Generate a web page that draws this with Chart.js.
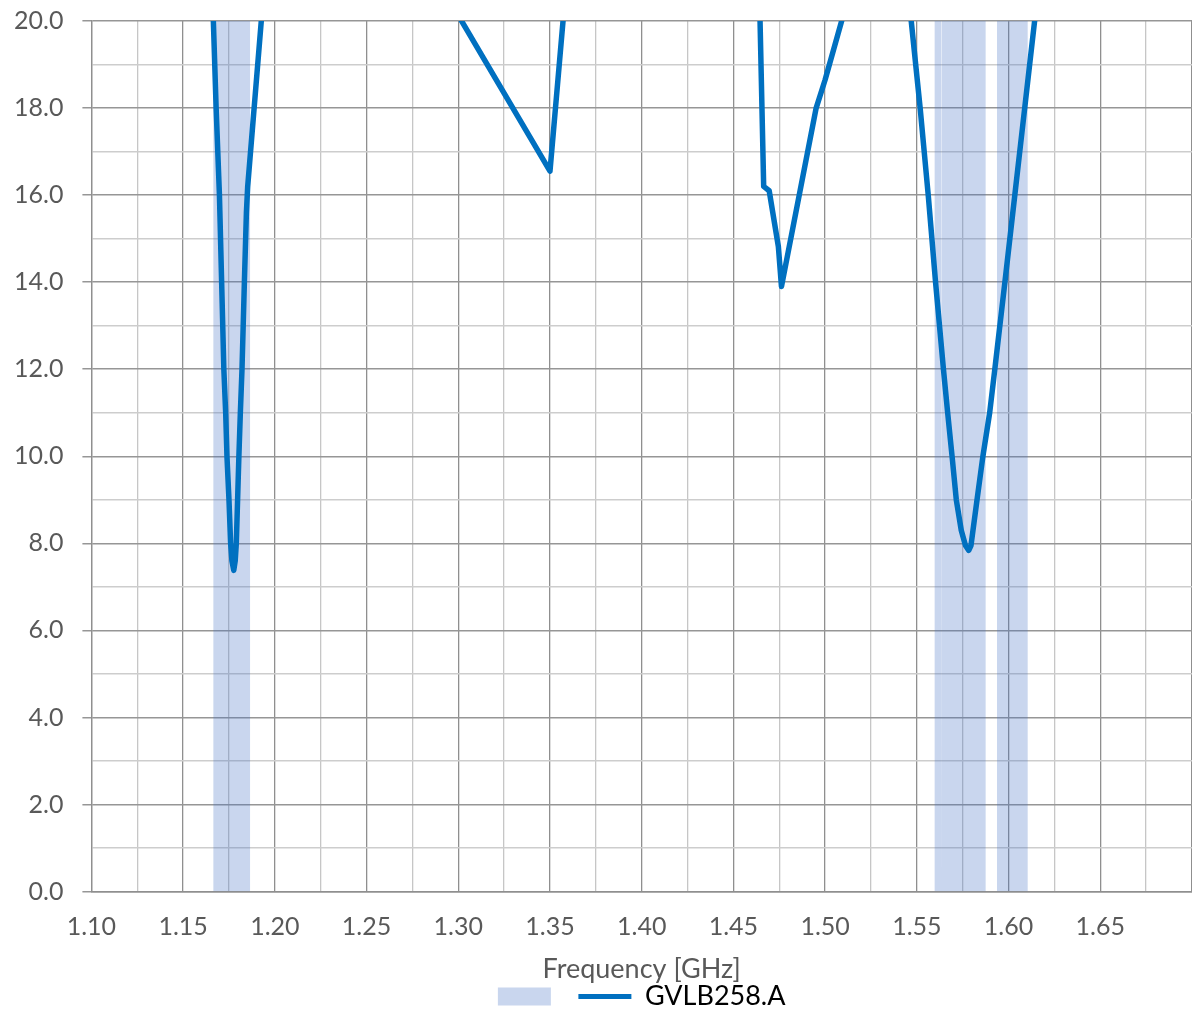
<!DOCTYPE html>
<html>
<head>
<meta charset="utf-8">
<script src="https://cdn.jsdelivr.net/npm/chart.js@4.4.1/dist/chart.umd.min.js"></script>
<style>
  body { margin: 0; background: #ffffff; }
  #contenedor { width: 1192px; height: 1012px; }
</style>
</head>
<body>
<div id="contenedor"><canvas id="grafica"></canvas></div>
<script>
// Datos de la curva GVLB258.A (frecuencia en GHz, valor)
const frecuencias = [
  1.1655, 1.1680, 1.1698, 1.1710, 1.1722, 1.1732, 1.1739, 1.1750, 1.1759, 1.1766,
  1.1776, 1.1784, 1.1790, 1.1797, 1.1804, 1.1812, 1.1821, 1.1834, 1.1845, 1.1852,
  1.1930, 1.2000, 1.2500,
  1.3000, 1.3500, 1.3600, 1.4000, 1.4500, 1.4640, 1.4665, 1.4695, 1.4745, 1.4762,
  1.4951, 1.5000, 1.5100, 1.5200, 1.5400, 1.5445,
  1.5518, 1.5562, 1.5602, 1.5645, 1.5668, 1.5692, 1.5715, 1.5742, 1.5765, 1.5783,
  1.5795, 1.5806, 1.5828, 1.5860, 1.5897, 1.5925, 1.5980, 1.6034, 1.6088,
  1.6142, 1.6200
];
const valores = [
  21.3, 18.0, 16.0, 14.0, 12.0, 11.0, 10.0, 9.0, 8.0, 7.6,
  7.38, 7.6, 8.0, 9.0, 10.0, 11.0, 12.0, 14.0, 15.6, 16.2,
  20.2, 24.0, 26.0,
  20.13, 16.55, 21.4, 27.0, 27.0, 21.0, 16.2, 16.1, 14.82, 13.9,
  18.0, 18.65, 20.15, 22.0, 22.5, 21.0,
  18.0, 16.0, 14.0, 12.0, 11.0, 10.0, 9.0, 8.3, 7.95, 7.84,
  7.95, 8.3, 9.0, 10.0, 11.0, 12.0, 14.0, 16.0, 18.0,
  20.0, 22.1
];

// Bandas sombreadas (inicio y fin en GHz)
const bandasInicio = [1.1664, 1.5597, 1.5636, 1.5937];
const bandasFin = [1.1865, 1.5632, 1.5875, 1.6105];

// Ejes
const ejeXMin = 1.10;
const ejeXMax = 1.70;
const ejeYMin = 0;
const ejeYMax = 20;

const serieNombre = 'GVLB258.A';
const tituloX = 'Frequency [GHz]';

const puntosCurva = frecuencias.map((f, i) => ({ x: f, y: valores[i] }));

// rectangulos de las bandas: subimos y bajamos en cada borde
const puntosBandas = [];
bandasInicio.forEach((ini, i) => {
  puntosBandas.push({ x: ini, y: ejeYMin });
  puntosBandas.push({ x: ini, y: ejeYMax });
  puntosBandas.push({ x: bandasFin[i], y: ejeYMax });
  puntosBandas.push({ x: bandasFin[i], y: ejeYMin });
});

// lineas principales mas oscuras, secundarias mas claras
function esPrincipal(valor, paso) {
  return Math.abs(Math.round(valor / paso) * paso - valor) < 1e-6;
}

const fuente = 'Lato, "Open Sans", sans-serif';

const ctx = document.getElementById('grafica').getContext('2d');
new Chart(ctx, {
  type: 'line',
  data: {
    datasets: [
      {
        label: '',
        data: puntosBandas,
        backgroundColor: 'rgba(68, 114, 196, 0.29)',
        borderColor: 'transparent',
        borderWidth: 0,
        pointRadius: 0,
        pointStyle: 'rect',
        pointBorderWidth: 0,
        pointBackgroundColor: 'rgba(68, 114, 196, 0.29)',
        fill: 'origin',
        tension: 0,
        order: 2
      },
      {
        label: serieNombre,
        data: puntosCurva,
        borderColor: '#0070c0',
        borderWidth: 5.5,
        borderCapStyle: 'round',
        borderJoinStyle: 'round',
        pointRadius: 0,
        pointStyle: 'line',
        pointBorderColor: '#0070c0',
        pointBorderWidth: 5,
        fill: false,
        tension: 0,
        clip: 0,
        order: 1
      }
    ]
  },
  options: {
    responsive: true,
    maintainAspectRatio: false,
    animation: false,
    layout: { padding: { top: 21, left: -5, right: 0, bottom: -8 } },
    scales: {
      x: {
        type: 'linear',
        min: ejeXMin,
        max: ejeXMax,
        // sin margen extra a los lados, el eje llega hasta el borde
        afterFit: (escala) => { escala.paddingLeft = 0; escala.paddingRight = 0; },
        ticks: {
          stepSize: 0.025,
          autoSkip: false,
          maxRotation: 0,
          padding: 20,
          color: '#595959',
          font: { family: fuente, size: 25 },
          callback: (valor) => {
            if (!esPrincipal(valor, 0.05) || valor > 1.69) return '';
            return valor.toFixed(2);
          }
        },
        grid: {
          drawTicks: false,
          color: (c) => esPrincipal(c.tick.value, 0.05) ? '#8f8f8f' : '#c6c6c6',
          lineWidth: 1.3
        },
        border: { color: '#8f8f8f', width: 1.5 },
        title: {
          display: true,
          text: tituloX,
          color: '#595959',
          font: { family: fuente, size: 27 },
          padding: { top: -9, bottom: -16 }
        }
      },
      y: {
        min: ejeYMin,
        max: ejeYMax,
        afterFit: (escala) => { escala.paddingTop = 0; escala.paddingBottom = 0; },
        ticks: {
          stepSize: 1,
          autoSkip: false,
          padding: 19,
          color: '#595959',
          font: { family: fuente, size: 25 },
          callback: (valor) => esPrincipal(valor, 2) ? valor.toFixed(1) : ''
        },
        grid: {
          tickLength: 9,
          color: (c) => esPrincipal(c.tick.value, 2) ? '#969696' : '#cdcdcd',
          tickColor: (c) => esPrincipal(c.tick.value, 2) ? '#969696' : 'rgba(0,0,0,0)',
          lineWidth: 1.5
        },
        border: { color: '#8f8f8f', width: 1.3 }
      }
    },
    plugins: {
      legend: {
        display: true,
        position: 'bottom',
        fullSize: false,
        labels: {
          usePointStyle: true,
          pointStyleWidth: 53,
          boxHeight: 18,
          padding: 14,
          color: '#000000',
          font: { family: fuente, size: 27 },
          // mantenemos el orden de los datasets (banda primero)
          sort: (a, b) => a.datasetIndex - b.datasetIndex
        }
      },
      tooltip: { enabled: false }
    }
  }
});
</script>
</body>
</html>
